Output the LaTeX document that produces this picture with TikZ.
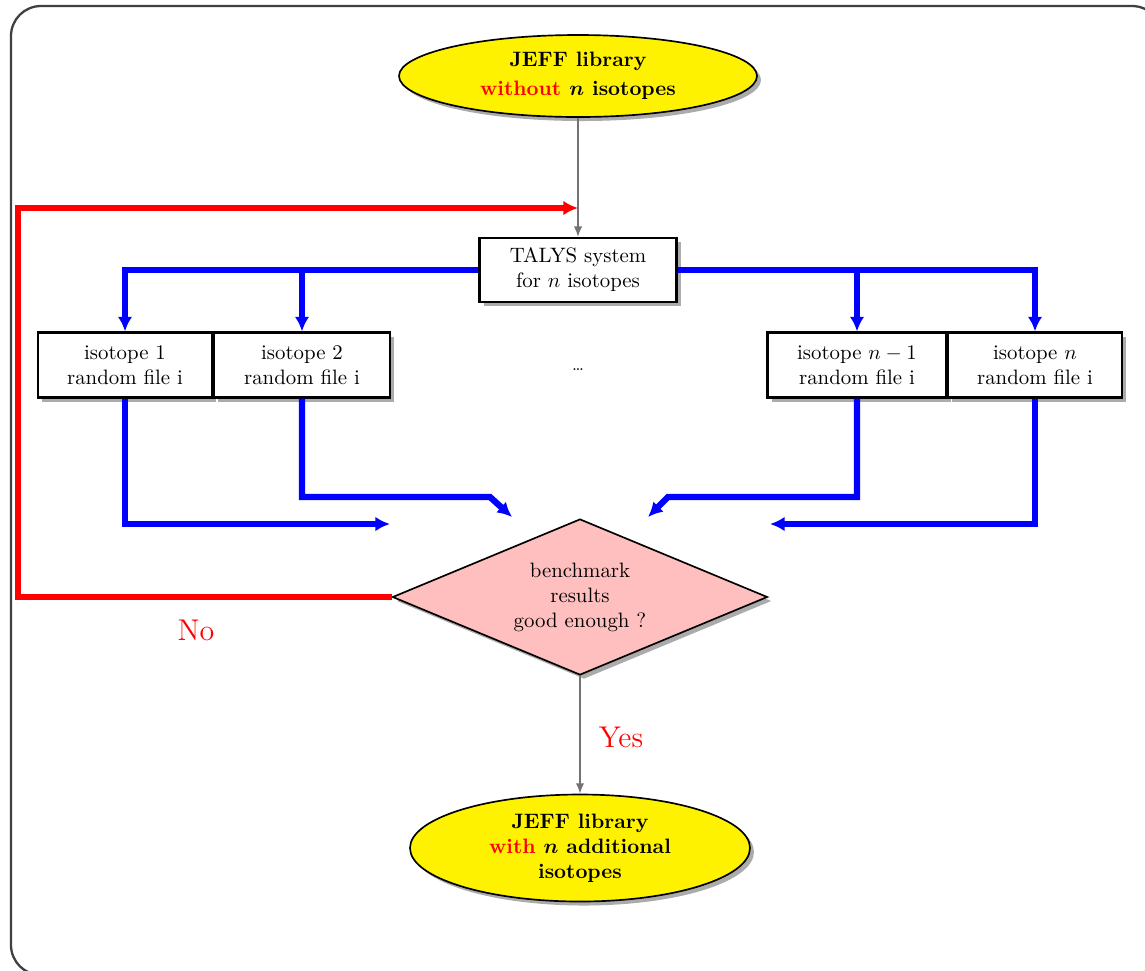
\documentclass[tikz,border=0pt]{standalone}
\usetikzlibrary{shapes.geometric,shadows,arrows.meta}
\newdimen\pxu \pxu=0.48pt
\begin{document}
\begin{tikzpicture}[x=0.48pt,y=-0.48pt,
  shad/.style={drop shadow={shadow xshift=4\pxu, shadow yshift=-4\pxu, opacity=0.55, fill=black!60}},
  box/.style={draw, line width=1.1pt, fill=white, shad, align=center, inner sep=1pt},
  ell/.style={ellipse, draw, line width=0.8pt, fill=yellow, shad, align=center, inner sep=0pt, font=\bfseries\boldmath},
  dia/.style={diamond, aspect=2.4, draw, line width=0.8pt, fill=pink, shad, align=center, inner sep=0pt},
  grayarrow/.style={draw=black!55, line width=0.7pt, -{Latex[length=5pt,width=4pt]}},
  bluearrow/.style={draw=blue, line width=3pt, -{Latex[length=7pt,width=7pt]}},
  redarrow/.style={draw=red, line width=3pt, -{Latex[length=7pt,width=7pt]}},
  lab/.style={text=red, font=\Large}
]
\useasboundingbox (0,0) rectangle (1145,970);
\draw[black!75, line width=1.1pt, rounded corners=30\pxu] (11,6) rectangle (1162,975);

\node[ell, minimum width=358\pxu, minimum height=82\pxu] (top) at (578,76)
  {JEFF library\\[2pt]\textcolor{red}{without} $n$ isotopes};
\node[box, minimum width=197\pxu, minimum height=64\pxu] (talys) at (578,270)
  {TALYS system\\for $n$ isotopes};

\node[box, minimum width=174\pxu, minimum height=65\pxu] (i1) at (125,365) {isotope 1\\random file i};
\node[box, minimum width=176\pxu, minimum height=65\pxu] (i2) at (302,365) {isotope 2\\random file i};
\node[box, minimum width=179\pxu, minimum height=65\pxu] (in1) at (857,365) {isotope $n-1$\\random file i};
\node[box, minimum width=174\pxu, minimum height=65\pxu] (in) at (1035,365) {isotope $n$\\random file i};
\node[font=\footnotesize] (dots) at (578,370) {\ldots};

\node[dia, minimum width=375\pxu, minimum height=156\pxu] (bench) at (580,597)
  {benchmark\\results\\good enough ?};
\node[ell, minimum width=340\pxu, minimum height=107\pxu] (bot) at (580,848)
  {JEFF library\\\textcolor{red}{with} $n$ additional\\isotopes};

% gray connectors
\coordinate (redend) at (578,208);
\draw[grayarrow] (top.south) -- (talys.north);
\draw[grayarrow] (bench.south) -- (bot.north);

% blue fan-out
\draw[bluearrow] (talys.west) -| (i1.north);
\draw[bluearrow] (talys.west) -| (i2.north);
\draw[bluearrow] (talys.east) -| (in.north);
\draw[bluearrow] (talys.east) -| (in1.north);

% blue fan-in
\coordinate (a1) at (390,524);
\coordinate (c2) at (490,497);
\coordinate (a2) at (512,517);
\coordinate (c3) at (668,497);
\coordinate (a3) at (648,517);
\coordinate (a4) at (770,524);
\draw[bluearrow] (i1.south) |- (a1);
\draw[bluearrow] (i2.south) |- (c2) -- (a2);
\draw[bluearrow] (in1.south) |- (c3) -- (a3);
\draw[bluearrow] (in.south) |- (a4);

% red loop
\coordinate (rc) at (18,208);
\draw[redarrow] (bench.west) -| (rc) -- (redend);

\node[lab] (no) at (196,630) {No};
\node[lab] (yes) at (621,737) {Yes};
\end{tikzpicture}
\end{document}
